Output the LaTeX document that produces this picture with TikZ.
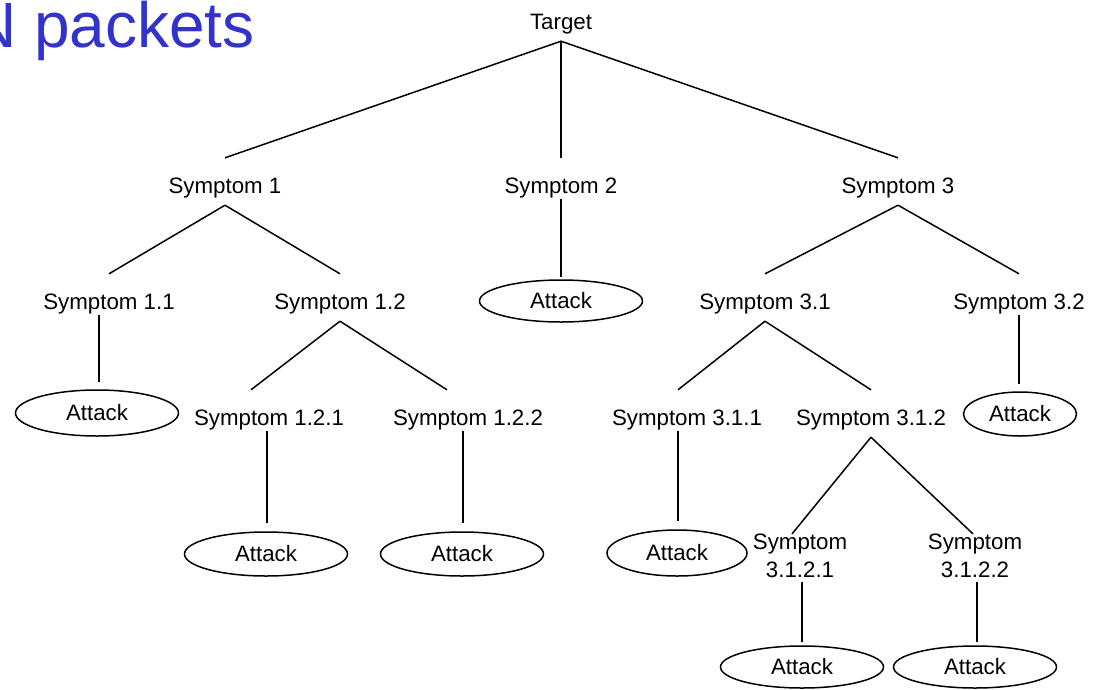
\documentclass[tikz,border=0pt]{standalone}
\usepackage{fontspec}
\setmainfont{Liberation Sans}
\usetikzlibrary{shapes.geometric}
\definecolor{titleblue}{RGB}{51,51,204}
\newcommand{\symfont}{\fontsize{22.3}{28}\selectfont}

\begin{document}
\begin{tikzpicture}[x=1pt,y=-1pt,
  sym/.style={font=\symfont, inner sep=0pt, text height=35pt, text depth=12pt, anchor=base},
  symleaf/.style={sym, text depth=6pt},
  symtwo/.style={font=\symfont, inner sep=0pt, align=center},
  attack/.style={draw, ellipse, line width=1.5pt, font=\symfont, inner sep=0pt,
    minimum width=163pt, minimum height=44pt},
  link/.style={line width=1.5pt}]

  \useasboundingbox (0,0) rectangle (1096,689);

  % slide title, cut at the left edge
  \node[titleblue, font=\fontsize{64}{72}\selectfont, inner sep=0pt, anchor=base west]
    (title) at (-30,47) {N packets};

  % levels 0 and 1
  \node[sym] (tgt) at (561,29) {Target};
  \node[sym] (s1) at (225,193) {Symptom 1};
  \node[symleaf] (s2) at (561,193) {Symptom 2};
  \node[sym] (s3) at (898,193) {Symptom 3};

  % level 2
  \node[symleaf] (s11) at (109,309) {Symptom 1.1};
  \node[sym] (s12) at (340,309) {Symptom 1.2};
  \node[attack, minimum height=42pt] (a2) at (561,301) {Attack};
  \node[sym] (s31) at (765,309) {Symptom 3.1};
  \node[symleaf] (s32) at (1019,309) {Symptom 3.2};

  % level 3
  \node[attack, minimum height=46pt] (a11) at (97,413) {Attack};
  \node[symleaf] (s121) at (269,425) {Symptom 1.2.1};
  \node[symleaf] (s122) at (468,425) {Symptom 1.2.2};
  \node[symleaf] (s311) at (687,425) {Symptom 3.1.1};
  \node[sym] (s312) at (871,425) {Symptom 3.1.2};
  \node[attack, minimum width=113pt] (a32) at (1020,414) {Attack};

  % level 4
  \node[attack] (a121) at (266,554) {Attack};
  \node[attack] (a122) at (462,554) {Attack};
  \node[attack, minimum width=140pt, minimum height=46pt] (a311) at (677,553) {Attack};
  \node[symtwo] (s3121) at (800,556) {Symptom\\3.1.2.1};
  \node[symtwo] (s3122) at (975,556) {Symptom\\3.1.2.2};

  % level 5
  \node[attack, minimum height=42pt] (a3121) at (802,667) {Attack};
  \node[attack, minimum height=42pt] (a3122) at (975,667) {Attack};

  % connectors
  \draw[link] (tgt.south) -- (s1.north);
  \draw[link] (tgt.south) -- (s2.north);
  \draw[link] (tgt.south) -- (s3.north);
  \draw[link] (s1.south) -- (s11.north);
  \draw[link] (s1.south) -- (s12.north);
  \draw[link, shorten >=2pt] (s2.south) -- (a2.north);
  \draw[link] (s3.south) -- (s31.north);
  \draw[link] (s3.south) -- (s32.north);
  \draw[link, shorten >=7pt] ([xshift=-10pt]s11.south) -- ([xshift=2pt]a11.north);
  \draw[link] (s12.south) -- ([xshift=-18pt]s121.north);
  \draw[link] (s12.south) -- ([xshift=-21pt]s122.north);
  \draw[link] (s31.south) -- ([xshift=-9pt]s311.north);
  \draw[link] (s31.south) -- (s312.north);
  \draw[link, shorten >=7pt] (s32.south) -- ([xshift=-1pt]a32.north);
  \draw[link, shorten >=8pt] ([xshift=-2pt]s121.south) -- ([xshift=1pt]a121.north);
  \draw[link, shorten >=8pt] ([xshift=-5pt]s122.south) -- ([xshift=1pt]a122.north);
  \draw[link, shorten >=8pt] ([xshift=-9pt]s311.south) -- ([xshift=1pt]a311.north);
  \draw[link] (s312.south) -- ([xshift=-8pt]s3121.north);
  \draw[link] (s312.south) -- ([xshift=-2pt]s3122.north);
  \draw[link, shorten <=4pt, shorten >=3pt] ([xshift=2pt]s3121.south) -- (a3121.north);
  \draw[link, shorten <=4pt, shorten >=3pt] ([xshift=2pt]s3122.south) -- ([xshift=2pt]a3122.north);

\end{tikzpicture}
\end{document}
